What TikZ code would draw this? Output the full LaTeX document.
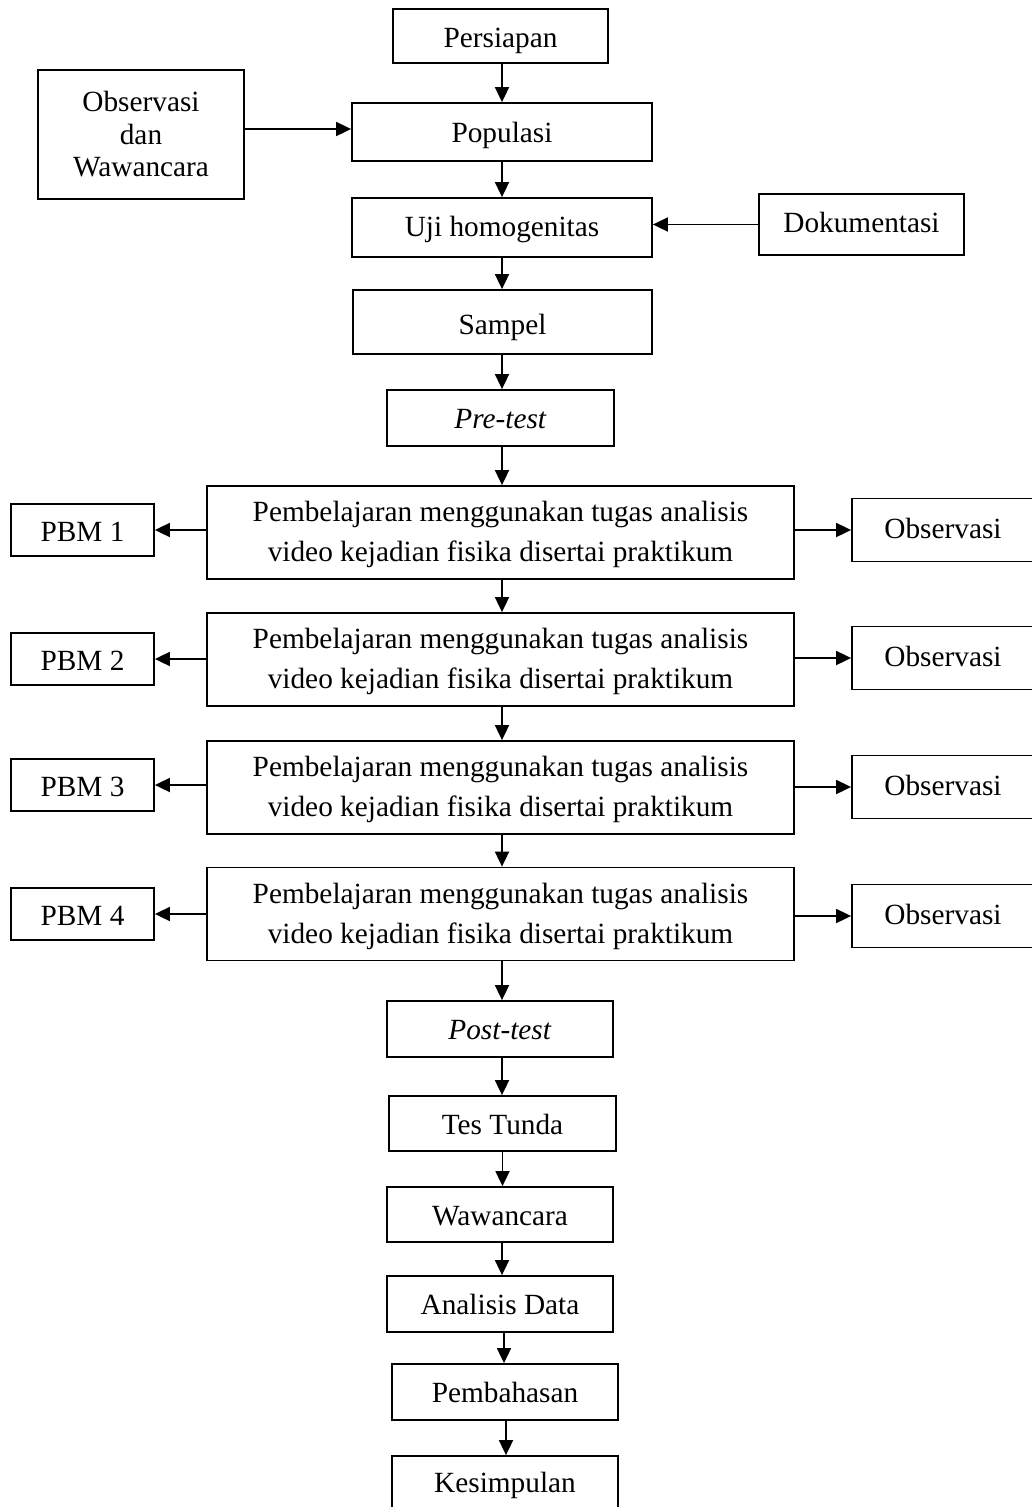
\documentclass[tikz,border=0pt]{standalone}
\usepackage{fontspec}
\setmainfont{Liberation Serif}
\usetikzlibrary{arrows.meta}
\begin{document}
\begin{tikzpicture}[x=1pt,y=-1pt,
  box/.style={draw, line width=1.8pt, inner sep=0pt, align=center,
    font=\fontsize{29.3}{40}\selectfont},
  one/.style={text height=24pt, text depth=3pt},
  arr/.style={line width=1.8pt, -{Triangle[length=15pt,width=14pt]}}]
\useasboundingbox (0,0) rectangle (1032,1507);
\fill[white] (0,0) rectangle (1032,1507);
% main column
\node[box, text height=25pt, text depth=2pt, minimum width=215pt, minimum height=54pt] (pers) at (500.5,36) {Persiapan};
\node[box, one, minimum width=300pt, minimum height=58pt] (pop) at (502,132) {Populasi};
\node[box, font=\fontsize{29.3}{32.5}\selectfont, minimum width=206pt, minimum height=129pt] (obsw) at (141,134.5) {Observasi\\dan\\Wawancara};
\node[box, text height=23pt, text depth=5pt, minimum width=300pt, minimum height=59pt] (uji) at (502,227.5) {Uji homogenitas};
\node[box, text height=20pt, text depth=5pt, minimum width=205pt, minimum height=61pt] (dok) at (861.5,224.5) {Dokumentasi};
\node[box, text height=27pt, text depth=2pt, minimum width=299pt, minimum height=64pt] (samp) at (502.5,322) {Sampel};
\node[box, one, minimum width=227pt, minimum height=56pt] (pre) at (500.5,418) {\textit{Pre-test}};
% learning rows
\foreach \i/\y/\yp/\yo in {1/532.5/530/530, 2/659.5/659/658, 3/787.5/785/787, 4/914/914/916}{
  \node[box, minimum width=587pt, minimum height=93pt] (b\i) at (500.5,\y)
    {\rule{0pt}{25pt}Pembelajaran menggunakan tugas analisis\\video kejadian fisika disertai praktikum};
  \node[box, text height=25pt, text depth=2pt, minimum width=143pt, minimum height=52pt] (pbm\i) at (82.5,\yp) {PBM \i};
  \node[box, text height=18pt, text depth=2pt, minimum width=182pt, minimum height=63pt] (obs\i) at (943,\yo) {Observasi};
  \draw[arr] (b\i.west |- pbm\i.east) -- (pbm\i.east);
  \draw[arr] (b\i.east |- obs\i.west) -- (obs\i.west);
}
\node[box, one, minimum width=226pt, minimum height=56pt] (post) at (500,1029) {\textit{Post-test}};
\node[box, one, minimum width=227pt, minimum height=55pt] (tes) at (502.5,1123.5) {Tes Tunda};
\node[box, one, minimum width=226pt, minimum height=55pt] (waw) at (500,1214.5) {Wawancara};
\node[box, one, minimum width=226pt, minimum height=56pt] (ana) at (500,1304) {Analisis Data};
\node[box, one, minimum width=226pt, minimum height=56pt] (pemb) at (505,1392) {Pembahasan};
\node[box, text height=20pt, text depth=3pt, minimum width=226pt, minimum height=56pt] (kes) at (505,1484) {Kesimpulan};
% vertical connectors
\draw[arr] ([xshift=1.5pt]pers.south) -- ([xshift=1.5pt]pers.south |- pop.north);
\draw[arr] (pop.south) -- (pop.south |- uji.north);
\draw[arr] (uji.south) -- (uji.south |- samp.north);
\draw[arr] ([xshift=-0.5pt]samp.south) -- ([xshift=-0.5pt]samp.south |- pre.north);
\draw[arr] ([xshift=1.5pt]pre.south) -- ([xshift=1.5pt]pre.south |- b1.north);
\draw[arr] ([xshift=1.5pt]b1.south) -- ([xshift=1.5pt]b1.south |- b2.north);
\draw[arr] ([xshift=1.5pt]b2.south) -- ([xshift=1.5pt]b2.south |- b3.north);
\draw[arr] ([xshift=1.5pt]b3.south) -- ([xshift=1.5pt]b3.south |- b4.north);
\draw[arr] ([xshift=1.5pt]b4.south) -- ([xshift=1.5pt]b4.south |- post.north);
\draw[arr] ([xshift=2pt]post.south) -- ([xshift=2pt]post.south |- tes.north);
\draw[arr] (tes.south) -- (tes.south |- waw.north);
\draw[arr] ([xshift=2pt]waw.south) -- ([xshift=2pt]waw.south |- ana.north);
\draw[arr] ([xshift=4pt]ana.south) -- ([xshift=4pt]ana.south |- pemb.north);
\draw[arr] ([xshift=1pt]pemb.south) -- ([xshift=1pt]pemb.south |- kes.north);
% side connectors
\draw[arr] ([yshift=3pt]obsw.east |- pop.west) -- ([yshift=3pt]pop.west);
\draw[arr] (dok.west) -- (dok.west -| uji.east);
\end{tikzpicture}
\end{document}
